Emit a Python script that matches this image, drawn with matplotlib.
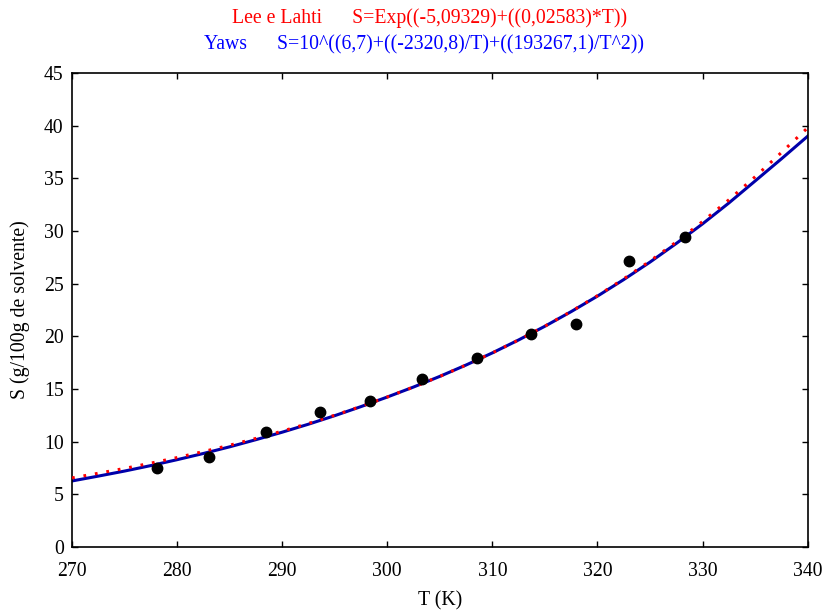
import matplotlib
matplotlib.use("Agg")
import matplotlib.pyplot as plt

T_exp = [278.1, 283.0, 288.5, 293.6, 298.35, 303.3, 308.5, 313.7, 318.0, 323.0, 328.3]
S_exp = [7.53, 8.55, 10.89, 12.79, 13.89, 15.92, 17.97, 20.19, 21.17, 27.18, 29.40]

# fitted curves, every 2.5 K
T_fit = [270, 272.5, 275, 277.5, 280, 282.5, 285, 287.5, 290, 292.5,
         295, 297.5, 300, 302.5, 305, 307.5, 310, 312.5, 315, 317.5,
         320, 322.5, 325, 327.5, 330, 332.5, 335, 337.5, 340]
S_lee = [6.56, 7.00, 7.46, 7.96, 8.49, 9.06, 9.66, 10.31, 11.00, 11.73,
         12.51, 13.35, 14.24, 15.19, 16.20, 17.28, 18.43, 19.66, 20.97, 22.37,
         23.86, 25.46, 27.15, 28.96, 30.90, 32.96, 35.15, 37.45, 39.8]
S_yaws = [6.27, 6.73, 7.21, 7.73, 8.29, 8.88, 9.51, 10.19, 10.90, 11.66,
          12.47, 13.33, 14.24, 15.19, 16.20, 17.28, 18.43, 19.66, 20.96, 22.35,
          23.82, 25.39, 27.05, 28.82, 30.68, 32.66, 34.75, 36.85, 39.0]

x_ticks = [270, 280, 290, 300, 310, 320, 330, 340]
y_ticks = [0, 5, 10, 15, 20, 25, 30, 35, 40, 45]

plt.rcParams['font.family'] = ['Liberation Serif', 'DejaVu Serif']
fs = 14.2

fig = plt.figure(figsize=(8.25, 6.12), dpi=100)
ax = fig.add_axes([0.0873, 0.1062, 0.8917, 0.7745])

ax.plot(T_fit, S_yaws, color='#0000aa', linewidth=2.2, zorder=2)
ax.plot(T_fit, S_lee, color='#ff0000', linewidth=2.2,
        linestyle=(0, (0.9, 2.9)), zorder=3)
ax.plot(T_exp, S_exp, 'o', color='black', markersize=7.5, zorder=4)

ax.set_xlim(270, 340)
ax.set_ylim(0, 45)
ax.set_xticks(x_ticks)
ax.set_yticks(y_ticks)
ax.tick_params(direction='in', length=4, width=1, top=True, right=True,
               labelsize=fs)
ax.tick_params(axis='x', pad=11)
ax.tick_params(axis='y', pad=6)
for sp in ax.spines.values():
    sp.set_linewidth(1.2)

ax.set_xlabel('T (K)', fontsize=fs, labelpad=7)
ax.set_ylabel('S (g/100g de solvente)', fontsize=fs, labelpad=10)

fig.text(0.521, 0.970, 'Lee e Lahti      S=Exp((-5,09329)+((0,02583)*T))',
         color='#ff0000', ha='center', va='center', fontsize=fs)
fig.text(0.514, 0.926, 'Yaws      S=10^((6,7)+((-2320,8)/T)+((193267,1)/T^2))',
         color='#0000ff', ha='center', va='center', fontsize=fs)

fig.savefig('out.png', dpi=100)
